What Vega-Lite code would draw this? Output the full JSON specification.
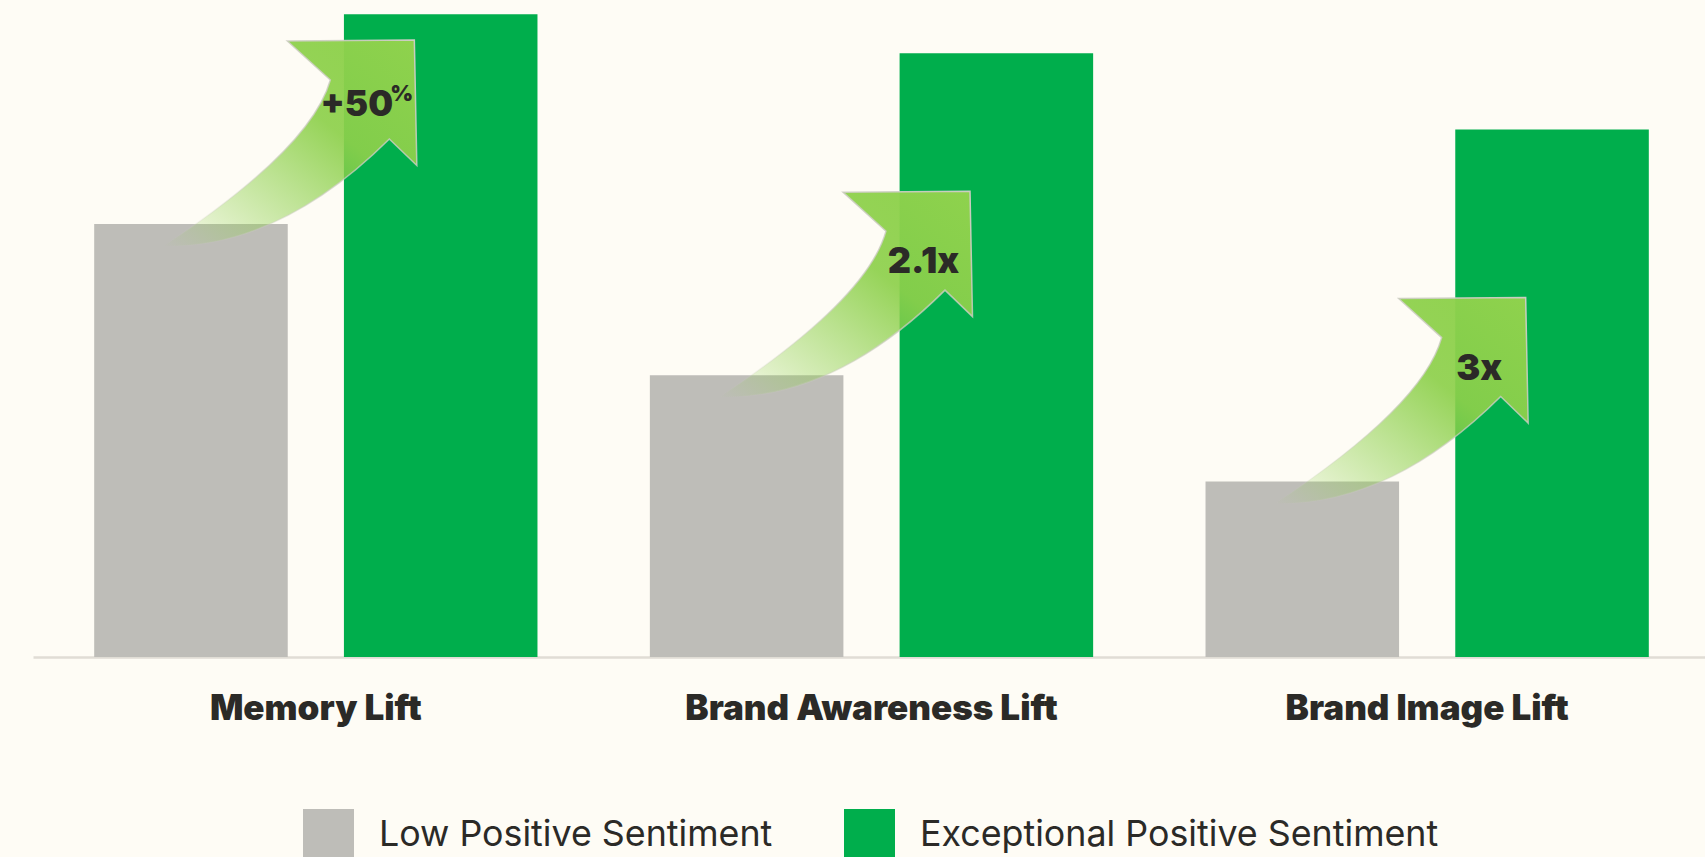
{
  "$schema": "https://vega.github.io/schema/vega-lite/v6.json",
  "width": 1672,
  "height": 657,
  "autosize": {"type": "none"},
  "padding": {"left": 33, "right": 0, "top": 0, "bottom": 200},
  "background": "#FEFCF5",
  "config": {"view": {"stroke": null}},
  "data": {
    "values": [
      {"group": "Memory Lift", "series": "Low Positive Sentiment", "value": 65.9, "lift": "+50", "sup": "%"},
      {"group": "Memory Lift", "series": "Exceptional Positive Sentiment", "value": 97.85},
      {"group": "Brand Awareness Lift", "series": "Low Positive Sentiment", "value": 42.9, "lift": "2.1x", "sup": ""},
      {"group": "Brand Awareness Lift", "series": "Exceptional Positive Sentiment", "value": 91.9},
      {"group": "Brand Image Lift", "series": "Low Positive Sentiment", "value": 26.7, "lift": "3x", "sup": ""},
      {"group": "Brand Image Lift", "series": "Exceptional Positive Sentiment", "value": 80.3}
    ]
  },
  "encoding": {
    "x": {
      "field": "group", "type": "nominal", "sort": null,
      "scale": {"paddingInner": 0, "paddingOuter": 0.0045, "align": 1},
      "axis": {
        "title": null, "orient": "bottom", "ticks": false, "tickSize": 0,
        "labelPadding": 51, "labelBaseline": "middle", "labelAngle": 0,
        "labelFont": "Inter", "labelFontWeight": 900, "labelFontSize": 35,
        "labelColor": "#2B2A27", "labelLimit": 1000,
        "domainColor": "#E0DDD5", "domainWidth": 2.3, "grid": false
      }
    },
    "y": {
      "field": "value", "type": "quantitative",
      "scale": {"domain": [0, 100], "nice": false},
      "axis": null
    }
  },
  "layer": [
    {
      "mark": {"type": "bar"},
      "encoding": {
        "xOffset": {
          "field": "series", "type": "nominal",
          "sort": ["Low Positive Sentiment", "Exceptional Positive Sentiment"],
          "scale": {"paddingInner": 0.225, "paddingOuter": 0.225}
        },
        "color": {
          "field": "series", "type": "nominal",
          "sort": ["Low Positive Sentiment", "Exceptional Positive Sentiment"],
          "scale": {
            "domain": ["Low Positive Sentiment", "Exceptional Positive Sentiment"],
            "range": ["#BEBDB8", "#00AE4C"]
          },
          "legend": {
            "title": null, "orient": "none", "legendX": 270, "legendY": 809,
            "direction": "horizontal", "symbolType": "square", "symbolSize": 2601,
            "symbolStrokeWidth": 0, "symbolOpacity": 1,
            "labelFont": "Inter", "labelFontSize": 35.8, "labelColor": "#2B2A27",
            "labelOffset": 25, "columnPadding": 71, "labelLimit": 1000
          }
        }
      }
    },
    {
      "transform": [{"filter": "datum.series === 'Low Positive Sentiment'"}],
      "mark": {
        "type": "point",
        "shape": "M -1.52 0.22 Q -0.05 -0.75 0.145 -1.44 L -0.285 -1.83 L 0.985 -1.84 L 1.01 -0.585 L 0.735 -0.85 Q -0.36 0.24 -1.52 0.22 Z",
        "size": 40000,
        "filled": true,
        "opacity": 1,
        "fill": {
          "gradient": "linear", "x1": 0, "y1": 1, "x2": 1, "y2": 0,
          "stops": [
            {"offset": 0, "color": "rgba(141,208,75,0)"},
            {"offset": 0.15, "color": "rgba(141,208,75,0.25)"},
            {"offset": 0.4, "color": "rgba(141,208,75,0.6)"},
            {"offset": 0.62, "color": "rgba(141,208,75,0.92)"},
            {"offset": 1, "color": "rgba(143,210,77,1)"}
          ]
        },
        "stroke": {
          "gradient": "linear", "x1": 0, "y1": 1, "x2": 1, "y2": 0,
          "stops": [
            {"offset": 0, "color": "rgba(205,205,195,0)"},
            {"offset": 0.5, "color": "rgba(205,205,195,0.7)"},
            {"offset": 1, "color": "rgba(205,205,195,1)"}
          ]
        },
        "strokeWidth": 1.5
      }
    },
    {
      "transform": [{"filter": "datum.sup === '%'"}],
      "mark": {"type": "text", "dx": 41, "dy": -119, "align": "center", "baseline": "middle",
               "font": "Inter", "fontWeight": 900, "fontSize": 35, "color": "#2B2A27"},
      "encoding": {"text": {"field": "lift"}}
    },
    {
      "transform": [{"filter": "datum.sup === '%'"}],
      "mark": {"type": "text", "dx": 86, "dy": -130, "align": "center", "baseline": "middle",
               "font": "Inter", "fontWeight": 900, "fontSize": 22, "color": "#2B2A27"},
      "encoding": {"text": {"field": "sup"}}
    },
    {
      "transform": [{"filter": "datum.series === 'Low Positive Sentiment' && datum.sup === ''"}],
      "mark": {"type": "text", "dx": 52, "dy": -113, "align": "center", "baseline": "middle",
               "font": "Inter", "fontWeight": 900, "fontSize": 36, "color": "#2B2A27"},
      "encoding": {"text": {"field": "lift"}}
    }
  ]
}
